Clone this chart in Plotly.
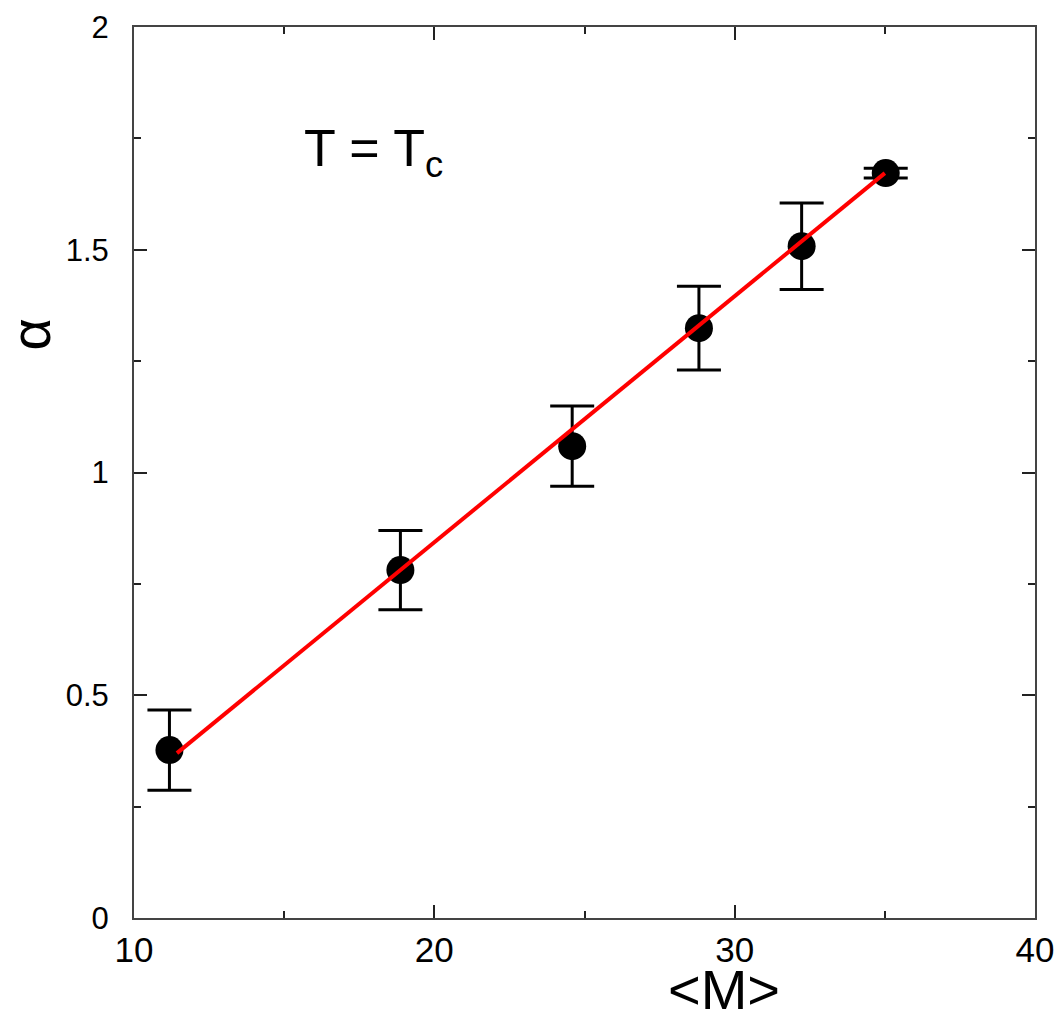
import plotly.graph_objects as go

M = [11.18, 18.87, 24.59, 28.81, 32.23, 35.03]
alpha = [0.377, 0.781, 1.059, 1.324, 1.508, 1.672]
alpha_err = [0.09, 0.089, 0.09, 0.094, 0.097, 0.011]
fit_M = [11.43, 35.0]
fit_alpha = [0.370, 1.672]
x_ticks = [10, 20, 30, 40]
y_ticks = [0, 0.5, 1, 1.5, 2]
y_tick_text = ["0", "0.5", "1", "1.5", "2"]

FONT = "Liberation Sans Narrow, Arial Narrow, Liberation Sans, Arial, sans-serif"

fig = go.Figure()
fig.add_trace(go.Scatter(
    x=M, y=alpha, mode="markers",
    marker=dict(color="black", size=28, symbol="circle"),
    error_y=dict(type="data", array=alpha_err, visible=True,
                 color="black", thickness=3, width=22),
    showlegend=False, hoverinfo="skip"))
fig.add_trace(go.Scatter(
    x=fit_M, y=fit_alpha, mode="lines",
    line=dict(color="red", width=4),
    showlegend=False, hoverinfo="skip"))

axis_common = dict(
    showgrid=False, zeroline=False, showline=True, linecolor="#444", linewidth=2,
    mirror="ticks", ticks="inside", ticklen=13, tickwidth=1.5, tickcolor="#222",
)

fig.update_xaxes(
    range=[10, 40], tickvals=x_ticks, ticktext=[str(v) for v in x_ticks],
    tickfont=dict(family=FONT, size=35, color="black"),
    minor=dict(dtick=5, tick0=0, ticks="inside", ticklen=7, tickwidth=1.5, tickcolor="#222"),
    ticklabelstandoff=0,
    **axis_common)
fig.update_yaxes(
    range=[0, 2], tickvals=y_ticks, ticktext=y_tick_text,
    tickfont=dict(family=FONT, size=31, color="black"),
    minor=dict(dtick=0.25, tick0=0, ticks="inside", ticklen=7, tickwidth=1.5, tickcolor="#222"),
    ticklabelstandoff=17,
    **axis_common)

fig.add_annotation(text="T = T<sub>c</sub>", x=15.6, y=1.72, xref="x", yref="y",
                   xanchor="left", yanchor="middle", showarrow=False,
                   font=dict(family=FONT, size=52, color="black"))
fig.add_annotation(text="&lt;M&gt;",
                   x=29.63, y=0, xref="x", yref="paper",
                   yshift=-71, xanchor="center", yanchor="middle", showarrow=False,
                   font=dict(family=FONT, size=56, color="black"))
fig.add_annotation(text="α", x=0, y=0.655, xref="paper", yref="paper",
                   xshift=-104, xanchor="center", yanchor="middle", textangle=-90,
                   showarrow=False,
                   font=dict(family="Liberation Sans, Arial, sans-serif", size=56, color="black"))

fig.update_layout(
    width=1062, height=1022,
    margin=dict(l=134, r=27, t=27, b=104, autoexpand=False),
    plot_bgcolor="white", paper_bgcolor="white",
)

fig.write_html("out.html", config={"displayModeBar": False},
               post_script="document.body.style.margin='0';document.body.style.overflow='hidden';")
